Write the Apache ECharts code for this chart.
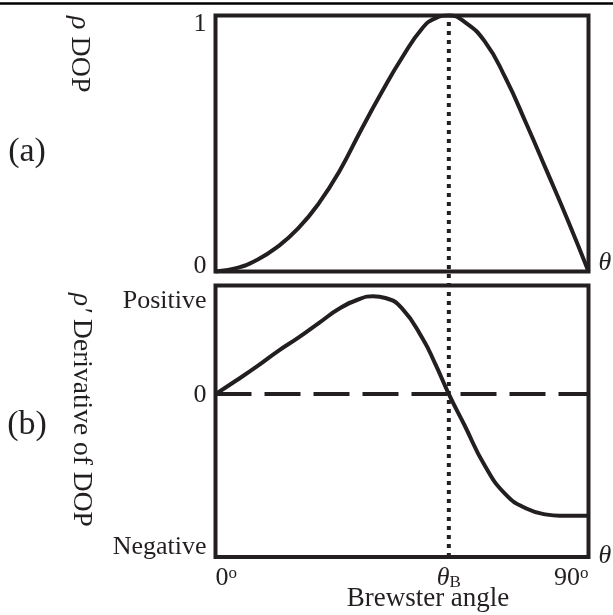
<!DOCTYPE html>
<html>
<head>
<meta charset="utf-8">
<script src="https://cdn.jsdelivr.net/npm/echarts@6/dist/echarts.min.js"></script>
<style>
  html, body { margin: 0; padding: 0; background: #fff; }
  #chart { width: 613px; height: 615px; }
</style>
</head>
<body>
<div id="chart"></div>
<script>
// (a) degree of polarization vs incidence angle
const dopAngles = [0, 5, 10, 15, 20, 25, 30, 35, 40, 45, 50, 53, 56.3, 60, 65, 70, 75, 80, 85, 90];
const dopValues = [0, 0.013, 0.045, 0.097, 0.169, 0.268, 0.395, 0.549, 0.697, 0.835, 0.952, 0.989, 1.0, 0.976, 0.898, 0.755, 0.577, 0.39, 0.2, 0];

// (b) derivative of DOP
const derivAngles = [0, 5, 10, 15, 20, 25, 30, 35, 38, 41, 45, 50, 53, 56.3, 60, 65, 70, 75, 80, 83, 90];
const derivValues = [0, 0.125, 0.255, 0.394, 0.52, 0.656, 0.79, 0.88, 0.9, 0.885, 0.79, 0.51, 0.28, 0, -0.28, -0.66, -0.924, -1.054, -1.11, -1.12, -1.12];

const brewsterAngle = 56.3;

// tick labels
const xTickValues = [0, brewsterAngle, 90];
const xTickLabels = ['0°', 'θ_B', '90°'];
const yTickValuesA = [0, 1];
const yTickLabelsA = ['0', '1'];
const yTickValuesB = [-1.5, 0, 1];
const yTickLabelsB = ['Negative', '0', 'Positive'];

const ink = '#231f20';
const serif = '"Liberation Serif", "Times New Roman", serif';

function indexOfTick(values, v) {
  for (let i = 0; i < values.length; i++) {
    if (Math.abs(values[i] - v) < 1e-6) return i;
  }
  return -1;
}

function xLabel(v) {
  const i = indexOfTick(xTickValues, v);
  if (i < 0) return '';
  const s = xTickLabels[i];
  if (s.endsWith('°')) return '{n|' + s.slice(0, -1) + '}{s|o}';
  if (s.indexOf('_') >= 0) { const p = s.split('_'); return '{t|' + p[0] + '}{b|' + p[1] + '}'; }
  return s;
}

// each y label gets its own rich style so it can sit inside the frame like the original
function yLabel(values, labels, prefix) {
  return v => {
    const i = indexOfTick(values, v);
    return i < 0 ? '' : '{' + prefix + i + '|' + labels[i] + '}';
  };
}

const lab = { fontFamily: serif, color: ink };

const chart = echarts.init(document.getElementById('chart'));

const hidden = { axisLine: { show: false }, axisTick: { show: false }, splitLine: { show: false } };

const option = {
  animation: false,
  backgroundColor: '#fff',
  grid: [
    { left: 215.5, top: 15.5, width: 373, height: 256, show: true, borderColor: ink, borderWidth: 4, outerBoundsMode: 'none' },
    { left: 215.5, top: 285.5, width: 373, height: 271.5, show: true, borderColor: ink, borderWidth: 4, outerBoundsMode: 'none' },
    { left: 215.5, top: 15.5, width: 373, height: 541.5, show: false, outerBoundsMode: 'none' }
  ],
  xAxis: [
    { gridIndex: 0, type: 'value', min: 0, max: 90, show: false },
    Object.assign({
      gridIndex: 1, type: 'value', min: 0, max: 90,
      axisLabel: {
        customValues: xTickValues,
        formatter: xLabel,
        margin: 8,
        alignMinLabel: 'left',
        alignMaxLabel: 'right',
        color: ink,
        fontFamily: serif,
        fontSize: 26,
        rich: {
          n: Object.assign({ fontSize: 26, lineHeight: 26 }, lab),
          s: Object.assign({ fontSize: 17, lineHeight: 10, verticalAlign: 'top' }, lab),
          t: Object.assign({ fontSize: 26, fontStyle: 'italic', lineHeight: 26 }, lab),
          b: Object.assign({ fontSize: 17, lineHeight: 17, verticalAlign: 'bottom', padding: [8, 0, 0, 0] }, lab)
        }
      },
      name: 'Brewster angle',
      nameLocation: 'middle',
      nameGap: 28,
      nameMoveOverlap: false,
      nameTextStyle: { fontSize: 27, fontFamily: serif, color: ink, padding: [0, 0, 0, 52] }
    }, hidden),
    { gridIndex: 2, type: 'value', min: 0, max: 90, show: false }
  ],
  yAxis: [
    Object.assign({
      gridIndex: 0, type: 'value', min: 0, max: 1,
      axisLabel: {
        customValues: yTickValuesA,
        formatter: yLabel(yTickValuesA, yTickLabelsA, 'a'),
        margin: 9, color: ink, fontFamily: serif, fontSize: 26,
        rich: {
          a0: Object.assign({ fontSize: 26, lineHeight: 26, padding: [0, 0, 11, 0] }, lab),
          a1: Object.assign({ fontSize: 26, lineHeight: 26, padding: [17, 0, 0, 0] }, lab)
        }
      }
    }, hidden),
    Object.assign({
      gridIndex: 1, type: 'value', min: -1.5, max: 1,
      axisLabel: {
        customValues: yTickValuesB,
        formatter: yLabel(yTickValuesB, yTickLabelsB, 'b'),
        margin: 9, color: ink, fontFamily: serif, fontSize: 26,
        rich: {
          b0: Object.assign({ fontSize: 26, lineHeight: 26, padding: [0, 0, 20, 0] }, lab),
          b1: Object.assign({ fontSize: 26, lineHeight: 26, padding: [2, 0, 0, 0] }, lab),
          b2: Object.assign({ fontSize: 26, lineHeight: 26, padding: [31, 0, 0, 0] }, lab)
        }
      }
    }, hidden),
    { gridIndex: 2, type: 'value', min: 0, max: 1, show: false }
  ],
  series: [
    {
      type: 'line', xAxisIndex: 0, yAxisIndex: 0,
      data: dopAngles.map((t, i) => [t, dopValues[i]]),
      smooth: 0.5, showSymbol: false, clip: false,
      lineStyle: { color: ink, width: 4 }
    },
    {
      type: 'line', xAxisIndex: 1, yAxisIndex: 1,
      data: derivAngles.map((t, i) => [t, derivValues[i]]),
      smooth: 0.5, showSymbol: false, clip: false,
      lineStyle: { color: ink, width: 4 }
    },
    {
      type: 'line', xAxisIndex: 1, yAxisIndex: 1,
      data: [[0, 0], [90, 0]],
      showSymbol: false,
      lineStyle: { color: ink, width: 4, type: [36, 13] }
    },
    {
      type: 'line', xAxisIndex: 2, yAxisIndex: 2,
      data: [[brewsterAngle, 0], [brewsterAngle, 1]],
      showSymbol: false, clip: false,
      lineStyle: { color: ink, width: 4, type: [4, 5] }
    }
  ],
  graphic: [
    { type: 'line', shape: { x1: 0, y1: 3.5, x2: 613, y2: 3.5 }, style: { stroke: '#000', lineWidth: 2.5 } },
    { type: 'text', x: 27, y: 152, style: { text: '(a)', fontSize: 34, fontFamily: serif, fill: ink, align: 'center', verticalAlign: 'middle' } },
    { type: 'text', x: 27, y: 425, style: { text: '(b)', fontSize: 34, fontFamily: serif, fill: ink, align: 'center', verticalAlign: 'middle' } },
    {
      type: 'text', x: 79, y: 16, rotation: -Math.PI / 2,
      style: {
        text: '{i|ρ} DOP', fontSize: 28, fontFamily: serif, fill: ink, align: 'left', verticalAlign: 'middle',
        rich: { i: { fontSize: 28, fontFamily: serif, fontStyle: 'italic', fill: ink } }
      }
    },
    {
      type: 'text', x: 81, y: 293, rotation: -Math.PI / 2,
      style: {
        text: '{i|ρ′} Derivative of DOP', fontSize: 27.5, fontFamily: serif, fill: ink, align: 'left', verticalAlign: 'middle',
        rich: { i: { fontSize: 27.5, fontFamily: serif, fontStyle: 'italic', fill: ink } }
      }
    },
    { type: 'text', x: 605, y: 263, style: { text: 'θ', fontSize: 26, fontFamily: serif, fontStyle: 'italic', fill: ink, align: 'center', verticalAlign: 'middle' } },
    { type: 'text', x: 605, y: 556, style: { text: 'θ', fontSize: 26, fontFamily: serif, fontStyle: 'italic', fill: ink, align: 'center', verticalAlign: 'middle' } }
  ]
};

chart.setOption(option);
</script>
</body>
</html>
